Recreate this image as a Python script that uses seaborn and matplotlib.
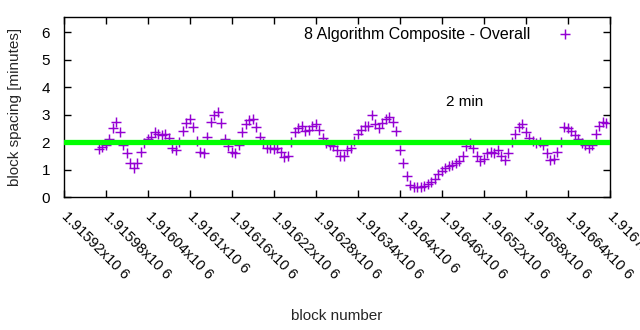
import numpy as np
import pandas as pd
import matplotlib
matplotlib.use("Agg")
import matplotlib.pyplot as plt
import seaborn as sns

# ---- data ----
block_start = 1915970
block_step = 5
spacing_minutes = [
    1.75, 1.82, 1.9, 2.1, 2.5, 2.75, 2.35, 1.9, 1.6, 1.25,
    1.05, 1.25, 1.65, 1.95, 2.1, 2.2, 2.35, 2.3, 2.25, 2.3,
    2.15, 1.8, 1.7, 2.0, 2.4, 2.7, 2.85, 2.55, 2.05, 1.65,
    1.6, 2.2, 2.75, 3.0, 3.1, 2.7, 2.1, 1.85, 1.65, 1.6,
    1.9, 2.35, 2.65, 2.8, 2.85, 2.55, 2.2, 1.95, 1.8, 1.8,
    1.75, 1.8, 1.65, 1.45, 1.5, 2.0, 2.35, 2.5, 2.6, 2.4,
    2.45, 2.6, 2.65, 2.45, 2.15, 1.95, 1.9, 1.85, 1.7, 1.5,
    1.5, 1.7, 1.8, 2.05, 2.3, 2.45, 2.6, 2.6, 3.0, 2.65,
    2.5, 2.7, 2.85, 2.9, 2.75, 2.4, 1.7, 1.25, 0.75, 0.45,
    0.37, 0.35, 0.38, 0.4, 0.47, 0.55, 0.67, 0.83, 0.95, 1.05,
    1.12, 1.17, 1.23, 1.3, 1.5, 1.85, 1.95, 1.8, 1.5, 1.3,
    1.4, 1.6, 1.65, 1.6, 1.7, 1.5, 1.35, 1.6, 2.0, 2.3,
    2.55, 2.65, 2.35, 2.15, 2.05, 1.95, 2.0, 1.9, 1.6, 1.35,
    1.4, 1.65, 2.0, 2.55, 2.5, 2.4, 2.25, 2.1, 1.95, 1.9,
    1.8, 1.9, 2.3, 2.6, 2.75, 2.7,
]
blocks = [block_start + block_step * i for i in range(len(spacing_minutes))]

target_minutes = 2
series_label = "8 Algorithm Composite - Overall"
target_label = "2 min"

xtick_values = [1915920, 1915980, 1916040, 1916100, 1916160, 1916220, 1916280,
                1916340, 1916400, 1916460, 1916520, 1916580, 1916640, 1916700]
xtick_labels = ["1.91592x10 6", "1.91598x10 6", "1.91604x10 6", "1.9161x10 6",
                "1.91616x10 6", "1.91622x10 6", "1.91628x10 6", "1.91634x10 6",
                "1.9164x10 6", "1.91646x10 6", "1.91652x10 6", "1.91658x10 6",
                "1.91664x10 6", "1.9167x10 6"]
ytick_values = [0, 1, 2, 3, 4, 5, 6]

df = pd.DataFrame({"block": blocks, "spacing": spacing_minutes})

# ---- style ----
sns.set_theme(style="ticks")
plt.rcParams["font.family"] = ["Liberation Sans", "DejaVu Sans"]
FS = 11

fig = plt.figure(figsize=(6.4, 3.3), dpi=100)
ax = fig.add_axes([0.1, 0.403, 0.853, 0.545])

sns.scatterplot(data=df, x="block", y="spacing", marker="+", s=48,
                color="#9400d3", linewidth=1.05, label=series_label, ax=ax,
                zorder=2)
ax.axhline(target_minutes, color="#00ff00", lw=3.8, zorder=3)
ax.text(1916466, 3.45, target_label, ha="left", va="center", fontsize=FS,
        color="black")

ax.set_xlim(1915920, 1916700)
ax.set_ylim(0, 6.55)
ax.set_xticks(xtick_values)
ax.set_xticklabels(xtick_labels, fontsize=10.5)
ax.set_yticks(ytick_values)
ax.set_yticklabels([str(v) for v in ytick_values], fontsize=FS)
for lab in ax.get_xticklabels():
    lab.set_rotation(-45)
    lab.set_ha("left")
    lab.set_va("center")
    lab.set_rotation_mode("anchor")

ax.tick_params(direction="in", top=True, right=True, length=5, width=1,
               colors="black")
ax.tick_params(axis="x", pad=12.5)
ax.tick_params(axis="y", pad=10)
for sp in ax.spines.values():
    sp.set_visible(True)
    sp.set_color("black")
    sp.set_linewidth(1)

ax.set_xlabel("block number", fontsize=FS)
ax.set_ylabel("block spacing [minutes]", fontsize=FS)
ax.xaxis.set_label_coords(0.5, -0.62)
ax.yaxis.set_label_coords(-0.077, 0.5)

leg = ax.legend(loc="upper right", frameon=False, markerfirst=False,
                fontsize=11.5, handlelength=2.0, handletextpad=1.2,
                borderaxespad=0.3, bbox_to_anchor=(0.968, 1.01))
for t in leg.get_texts():
    t.set_color("black")

fig.savefig("out.png", dpi=100)
